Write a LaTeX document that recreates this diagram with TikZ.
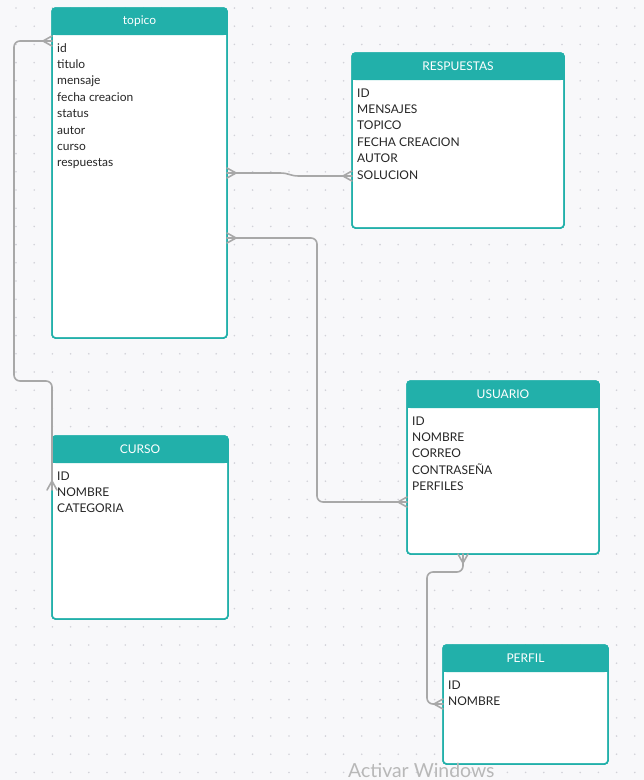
\documentclass[tikz,border=0pt]{standalone}
\usepackage{fontspec}
\setmainfont{Lato}
\definecolor{erteal}{HTML}{22B0AA}
\definecolor{canvasbg}{HTML}{F8F8FA}
\definecolor{griddot}{HTML}{D2D2D8}
\definecolor{linkgray}{HTML}{A8A8A8}
\definecolor{markgray}{HTML}{B8B8B8}

\tikzset{
  entity/.style={draw=erteal, fill=white, line width=1.5pt, rounded corners=3.5pt,
                 inner sep=0pt, outer sep=0pt},
  headtext/.style={text=white, font=\fontsize{12}{14}\selectfont, inner sep=0pt},
  rowtext/.style={text=black!85, font=\fontsize{12}{14}\selectfont, inner sep=0pt},
  conn/.style={draw=linkgray, line width=1.6pt, line join=round, line cap=round},
  crow/.pic={\draw[conn] (0,-5) -- (9,0) -- (0,5);},
  watermark/.style={text=markgray, font=\fontsize{19.4}{22}\selectfont, inner sep=0pt}
}

% entity box: name, x, y, width, height, title, rows
\newcommand\erentity[7]{%
  \node[entity, minimum width=#4pt, minimum height=#5pt, anchor=north west] (#1) at (#2,#3) {};
  \fill[erteal, rounded corners=3.5pt] (#2,#3) rectangle ({#2+#4},{#3+27});
  \fill[erteal] (#2,{#3+20}) rectangle ({#2+#4},{#3+27});
  \draw[erteal, line width=1.5pt, rounded corners=3.5pt] (#2,#3) rectangle ({#2+#4},{#3+#5});
  \node[headtext] (#1-title) at ({#2+#4/2},{#3+13.5}) {#6};
  \foreach \t [count=\k] in {#7}
    \node[rowtext, anchor=base west] (#1-\k) at ({#2+5},{#3+44+16.4*(\k-1)}) {\t};
}

\begin{document}
\begin{tikzpicture}[x=1pt,y=-1pt]
  \useasboundingbox (0,0) rectangle (644,780);
  \fill[canvasbg] (0,0) rectangle (644,780);
  \foreach \i in {0,...,35}
    \foreach \j in {0,...,42}
      \fill[griddot] ({16+18.2*\i},{8+18.2*\j}) circle (0.9);

  \erentity{topico}{52}{8}{175}{330}{topico}%
    {id,titulo,mensaje,fecha creacion,status,autor,curso,respuestas}
  \erentity{respuestas}{352}{53}{212}{175}{RESPUESTAS}%
    {ID,MENSAJES,TOPICO,FECHA CREACION,AUTOR,SOLUCION}
  \erentity{usuario}{407}{381}{192}{173}{USUARIO}%
    {ID,NOMBRE,CORREO,CONTRASEÑA,PERFILES}
  \erentity{curso}{52}{436}{176}{183}{CURSO}%
    {ID,NOMBRE,CATEGORIA}
  \erentity{perfil}{443}{645}{165}{119}{PERFIL}%
    {ID,NOMBRE}

  % topico -- curso
  \draw[conn, rounded corners=6pt] (topico.west |- 0,41) -- (14,41) -- (14,381)
    -- (52,381) -- (curso.west |- 0,490);
  \pic[rotate=180] at (topico.west |- 0,41) {crow};
  \pic[rotate=90] at (curso.west |- 0,490) {crow};

  % topico -- respuestas
  \draw[conn] (topico.east |- 0,173) -- (280,173)
    .. controls (289,173) and (290,176) .. (299,176) -- (respuestas.west |- 0,176);
  \pic at (topico.east |- 0,173) {crow};
  \pic[rotate=180] at (respuestas.west |- 0,176) {crow};

  % topico -- usuario
  \draw[conn, rounded corners=6pt] (topico.east |- 0,238) -- (317,238) -- (317,502)
    -- (usuario.west |- 0,502);
  \pic at (topico.east |- 0,238) {crow};
  \pic[rotate=180] at (usuario.west |- 0,502) {crow};

  % usuario -- perfil
  \draw[conn, rounded corners=6pt] (usuario.south -| 463,0) -- (463,572) -- (427,572)
    -- (427,704) -- (perfil.west |- 0,704);
  \pic[rotate=-90] at (usuario.south -| 463,0) {crow};
  \pic[rotate=180] at (perfil.west |- 0,704) {crow};

  \node[watermark, anchor=base west] (aviso) at (348,777) {Activar Windows};
\end{tikzpicture}
\end{document}
